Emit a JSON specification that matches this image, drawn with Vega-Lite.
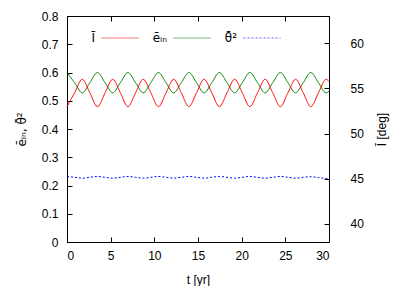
{
  "$schema": "https://vega.github.io/schema/vega-lite/v6.json",
  "width": 262,
  "height": 226,
  "autosize": "none",
  "padding": {"left": 67, "top": 16, "right": 80, "bottom": 44},
  "config": {
    "font": "Liberation Sans",
    "view": {"stroke": "#000000", "strokeWidth": 1},
    "axis": {
      "grid": false,
      "domain": false,
      "tickColor": "#000000",
      "tickSize": -5,
      "labelColor": "#000000",
      "labelFontSize": 12,
      "titleFontSize": 12,
      "titleFontWeight": "normal",
      "titleColor": "#000000"
    },
    "legend": {"labelFontSize": 12, "labelColor": "#000000", "labelFont": "DejaVu Sans"}
  },
  "datasets": {
    "e": [
      {"t": 0, "v": 0.600, "s": "ēᵢₙ"}, {"t": 0.87, "v": 0.564, "s": "ēᵢₙ"}, {"t": 1.745, "v": 0.528, "s": "ēᵢₙ"}, {"t": 2.62, "v": 0.564, "s": "ēᵢₙ"},
      {"t": 3.49, "v": 0.600, "s": "ēᵢₙ"}, {"t": 4.36, "v": 0.564, "s": "ēᵢₙ"}, {"t": 5.235, "v": 0.528, "s": "ēᵢₙ"}, {"t": 6.11, "v": 0.564, "s": "ēᵢₙ"},
      {"t": 6.98, "v": 0.600, "s": "ēᵢₙ"}, {"t": 7.85, "v": 0.564, "s": "ēᵢₙ"}, {"t": 8.725, "v": 0.528, "s": "ēᵢₙ"}, {"t": 9.6, "v": 0.564, "s": "ēᵢₙ"},
      {"t": 10.47, "v": 0.600, "s": "ēᵢₙ"}, {"t": 11.34, "v": 0.564, "s": "ēᵢₙ"}, {"t": 12.215, "v": 0.528, "s": "ēᵢₙ"}, {"t": 13.09, "v": 0.564, "s": "ēᵢₙ"},
      {"t": 13.96, "v": 0.600, "s": "ēᵢₙ"}, {"t": 14.83, "v": 0.564, "s": "ēᵢₙ"}, {"t": 15.705, "v": 0.528, "s": "ēᵢₙ"}, {"t": 16.58, "v": 0.564, "s": "ēᵢₙ"},
      {"t": 17.45, "v": 0.600, "s": "ēᵢₙ"}, {"t": 18.32, "v": 0.564, "s": "ēᵢₙ"}, {"t": 19.195, "v": 0.528, "s": "ēᵢₙ"}, {"t": 20.07, "v": 0.564, "s": "ēᵢₙ"},
      {"t": 20.94, "v": 0.600, "s": "ēᵢₙ"}, {"t": 21.81, "v": 0.564, "s": "ēᵢₙ"}, {"t": 22.685, "v": 0.528, "s": "ēᵢₙ"}, {"t": 23.56, "v": 0.564, "s": "ēᵢₙ"},
      {"t": 24.43, "v": 0.600, "s": "ēᵢₙ"}, {"t": 25.3, "v": 0.564, "s": "ēᵢₙ"}, {"t": 26.175, "v": 0.528, "s": "ēᵢₙ"}, {"t": 27.05, "v": 0.564, "s": "ēᵢₙ"},
      {"t": 27.92, "v": 0.600, "s": "ēᵢₙ"}, {"t": 28.79, "v": 0.564, "s": "ēᵢₙ"}, {"t": 29.665, "v": 0.528, "s": "ēᵢₙ"}, {"t": 30, "v": 0.534, "s": "ēᵢₙ"},
      {"t": 0, "v": 0.232, "s": "θ̄²"}, {"t": 0.87, "v": 0.229, "s": "θ̄²"}, {"t": 1.745, "v": 0.226, "s": "θ̄²"}, {"t": 2.62, "v": 0.229, "s": "θ̄²"},
      {"t": 3.49, "v": 0.232, "s": "θ̄²"}, {"t": 4.36, "v": 0.229, "s": "θ̄²"}, {"t": 5.235, "v": 0.226, "s": "θ̄²"}, {"t": 6.11, "v": 0.229, "s": "θ̄²"},
      {"t": 6.98, "v": 0.232, "s": "θ̄²"}, {"t": 7.85, "v": 0.229, "s": "θ̄²"}, {"t": 8.725, "v": 0.226, "s": "θ̄²"}, {"t": 9.6, "v": 0.229, "s": "θ̄²"},
      {"t": 10.47, "v": 0.232, "s": "θ̄²"}, {"t": 11.34, "v": 0.229, "s": "θ̄²"}, {"t": 12.215, "v": 0.226, "s": "θ̄²"}, {"t": 13.09, "v": 0.229, "s": "θ̄²"},
      {"t": 13.96, "v": 0.232, "s": "θ̄²"}, {"t": 14.83, "v": 0.229, "s": "θ̄²"}, {"t": 15.705, "v": 0.226, "s": "θ̄²"}, {"t": 16.58, "v": 0.229, "s": "θ̄²"},
      {"t": 17.45, "v": 0.232, "s": "θ̄²"}, {"t": 18.32, "v": 0.229, "s": "θ̄²"}, {"t": 19.195, "v": 0.226, "s": "θ̄²"}, {"t": 20.07, "v": 0.229, "s": "θ̄²"},
      {"t": 20.94, "v": 0.232, "s": "θ̄²"}, {"t": 21.81, "v": 0.229, "s": "θ̄²"}, {"t": 22.685, "v": 0.226, "s": "θ̄²"}, {"t": 23.56, "v": 0.229, "s": "θ̄²"},
      {"t": 24.43, "v": 0.232, "s": "θ̄²"}, {"t": 25.3, "v": 0.229, "s": "θ̄²"}, {"t": 26.175, "v": 0.226, "s": "θ̄²"}, {"t": 27.05, "v": 0.229, "s": "θ̄²"},
      {"t": 27.92, "v": 0.231, "s": "θ̄²"}, {"t": 28.79, "v": 0.228, "s": "θ̄²"}, {"t": 29.665, "v": 0.225, "s": "θ̄²"}, {"t": 30, "v": 0.2255, "s": "θ̄²"}
    ],
    "I": [
      {"t": 0, "v": 52.97, "s": "Ī"}, {"t": 0.87, "v": 54.5, "s": "Ī"}, {"t": 1.745, "v": 56.0, "s": "Ī"}, {"t": 2.62, "v": 54.5, "s": "Ī"},
      {"t": 3.49, "v": 52.97, "s": "Ī"}, {"t": 4.36, "v": 54.5, "s": "Ī"}, {"t": 5.235, "v": 56.0, "s": "Ī"}, {"t": 6.11, "v": 54.5, "s": "Ī"},
      {"t": 6.98, "v": 52.97, "s": "Ī"}, {"t": 7.85, "v": 54.5, "s": "Ī"}, {"t": 8.725, "v": 56.0, "s": "Ī"}, {"t": 9.6, "v": 54.5, "s": "Ī"},
      {"t": 10.47, "v": 52.97, "s": "Ī"}, {"t": 11.34, "v": 54.5, "s": "Ī"}, {"t": 12.215, "v": 56.0, "s": "Ī"}, {"t": 13.09, "v": 54.5, "s": "Ī"},
      {"t": 13.96, "v": 52.97, "s": "Ī"}, {"t": 14.83, "v": 54.5, "s": "Ī"}, {"t": 15.705, "v": 56.0, "s": "Ī"}, {"t": 16.58, "v": 54.5, "s": "Ī"},
      {"t": 17.45, "v": 52.97, "s": "Ī"}, {"t": 18.32, "v": 54.5, "s": "Ī"}, {"t": 19.195, "v": 56.0, "s": "Ī"}, {"t": 20.07, "v": 54.5, "s": "Ī"},
      {"t": 20.94, "v": 52.97, "s": "Ī"}, {"t": 21.81, "v": 54.5, "s": "Ī"}, {"t": 22.685, "v": 56.0, "s": "Ī"}, {"t": 23.56, "v": 54.5, "s": "Ī"},
      {"t": 24.43, "v": 52.97, "s": "Ī"}, {"t": 25.3, "v": 54.5, "s": "Ī"}, {"t": 26.175, "v": 56.0, "s": "Ī"}, {"t": 27.05, "v": 54.5, "s": "Ī"},
      {"t": 27.92, "v": 52.97, "s": "Ī"}, {"t": 28.79, "v": 54.5, "s": "Ī"}, {"t": 29.665, "v": 56.0, "s": "Ī"}, {"t": 30, "v": 55.75, "s": "Ī"}
    ]
  },
  "layer": [
    {
      "data": {"name": "e"},
      "mark": {"type": "line", "interpolate": "monotone", "strokeWidth": 1},
      "encoding": {
        "x": {"field": "t", "type": "quantitative", "scale": {"domain": [0, 30], "nice": false},
              "axis": {"values": [0, 5, 10, 15, 20, 25, 30], "title": "t [yr]", "labelPadding": 13, "titlePadding": 13}},
        "y": {"field": "v", "type": "quantitative", "scale": {"domain": [0, 0.8], "nice": false},
              "axis": {"values": [0, 0.1, 0.2, 0.3, 0.4, 0.5, 0.6, 0.7, 0.8], "title": "ēᵢₙ, θ̄²", "titleFont": "DejaVu Sans", "titleFontSize": 12,
                       "labelExpr": "datum.value == 0 ? '0' : format(datum.value, '.1f')", "labelPadding": 14, "titlePadding": 13}},
        "color": {"field": "s", "type": "nominal", "title": null,
                  "scale": {"domain": ["Ī", "ēᵢₙ", "θ̄²"], "range": ["#ff0000", "#008000", "#0000ff"]},
                  "legend": {"orient": "none", "legendX": 34, "legendY": 3, "direction": "horizontal", "symbolType": "stroke", "symbolSize": 1369, "symbolStrokeWidth": 1, "symbolOpacity": 0.6, "columnPadding": 11, "labelAlign": "right", "labelOffset": -44}},
        "strokeDash": {"field": "s", "type": "nominal", "title": null,
                  "scale": {"domain": ["Ī", "ēᵢₙ", "θ̄²"], "range": [[1, 0], [1, 0], [2, 2]]},
                  "legend": {"orient": "none", "legendX": 34, "legendY": 3, "direction": "horizontal", "symbolType": "stroke", "symbolSize": 1369, "symbolStrokeWidth": 1, "symbolOpacity": 0.6, "columnPadding": 11, "labelAlign": "right", "labelOffset": -44}}
      }
    },
    {
      "data": {"name": "I"},
      "mark": {"type": "line", "interpolate": "monotone", "strokeWidth": 1},
      "encoding": {
        "x": {"field": "t", "type": "quantitative", "scale": {"domain": [0, 30], "nice": false},
              "axis": {"orient": "top", "values": [0, 5, 10, 15, 20, 25, 30], "labels": false, "title": null}},
        "y": {"field": "v", "type": "quantitative", "scale": {"domain": [38, 63], "nice": false},
              "axis": {"orient": "right", "values": [40, 45, 50, 55, 60], "title": "Ī [deg]", "titleAngle": 270, "labelPadding": 26, "titlePadding": 25}},
        "color": {"field": "s", "type": "nominal", "title": null},
        "strokeDash": {"field": "s", "type": "nominal", "title": null}
      }
    }
  ],
  "resolve": {"scale": {"y": "independent"}, "axis": {"x": "independent"}}
}
